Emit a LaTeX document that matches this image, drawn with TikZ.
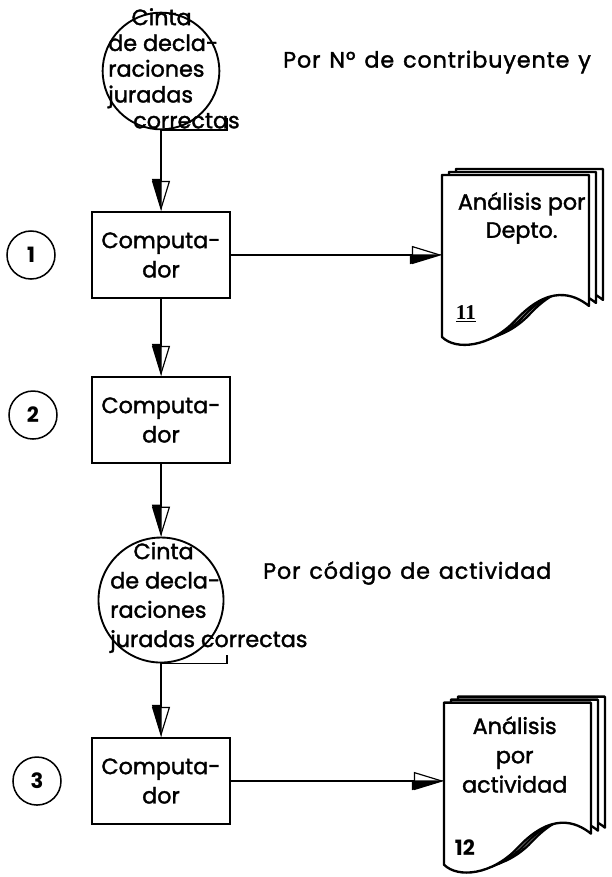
\documentclass[tikz,border=0pt]{standalone}
\usepackage{fontspec}
\setmainfont{Poppins}[UprightFeatures={FakeBold=1.6}]
\newfontfamily\notefont{Poppins}[UprightFeatures={FakeBold=1.6},LetterSpace=4,WordSpace=1.3]
\newfontfamily\serialfont{Liberation Serif}
\usetikzlibrary{positioning,arrows.meta}

\tikzset{
  proc/.style={draw,line width=2pt,minimum width=4.14cm,minimum height=2.58cm,
    align=center,inner sep=0pt},
  tape/.style={draw,circle,line width=1.6pt,minimum size=3.5cm,inner sep=0pt},
  tapetext/.style={align=left,inner sep=0pt,anchor=north west,font=\fontsize{19}{22}\selectfont},
  stepnum/.style={draw,circle,line width=1.3pt,minimum size=1.44cm,inner sep=0pt,
    font=\fontsize{18}{20}\selectfont\bfseries},
  docnode/.style={minimum width=4.41cm,minimum height=5.13cm,inner sep=0pt},
  docline/.style={line width=2pt,fill=white,line join=round},
  note/.style={anchor=west,inner sep=0pt,font=\notefont\fontsize{19}{25}\selectfont},
  flow/.style={line width=1pt,-{Triangle[open,length=0.9cm,width=0.54cm,line width=1pt]},
    postaction={draw,-{Triangle[harpoon,swap,length=0.9cm,width=0.54cm]}}}
}

% stacked report pages behind a doc node
\newcommand\docstack[1]{%
  \foreach \dx/\dy in {14/-6,7/-3,0/0}{%
    \begin{scope}[shift={(#1.north west)},shift={(\dx,\dy)}]
      \draw[docline] (0,0) -- (147,0) -- (147,131)
        .. controls (132,119) and (107,109) .. (73,146)
        .. controls (48,172) and (14,176) .. (0,162) -- cycle;
    \end{scope}}}

\begin{document}
\begin{tikzpicture}[x=0.03cm,y=-0.03cm,node distance=5cm,on grid,
   font=\fontsize{19}{25}\selectfont]
 \useasboundingbox (0,0) rectangle (611,877);
 % main column
 \node[tape] (tape1) at (161,71) {};
 \node[proc] (box1) [below=5.52cm of tape1] {Computa-\\dor};
 \node[proc] (box2) [below=4.95cm of box1] {Computa-\\dor};
 \node[tape,minimum size=3.75cm] (tape2) [below=5.4cm of box2] {};
 \node[proc] (box3) [below=5.43cm of tape2] {Computa-\\dor};
 \node[stepnum] (n1) [left=3.9cm of box1] {1};
 \node[stepnum] (n2) [above left=0.15cm and 3.84cm of box2] {2};
 \node[stepnum] (n3) [left=3.72cm of box3] {3};
 \node[docnode] (doc1) [below right=0.17cm and 10.64cm of box1] {};
 \node[docnode] (doc2) [below right=0.22cm and 10.7cm of box3] {};
 % tape tails
 \draw[line width=1.6pt] (tape1.south) -- ++(66,0) -- ++(0,-12);
 \draw[line width=1.6pt] (tape2.south) -- ++(66,0) -- ++(0,-8);
 % reports
 \docstack{doc1}
 \docstack{doc2}
 % texts
 \node[tapetext] (t1) at (108,8) {\hspace*{0.7cm}Cinta\\de decla-\\raciones\\juradas\\\hspace*{0.75cm}correctas};
 \node[tapetext,font=\fontsize{19}{25}\selectfont] (t2) at (110,542) {\hspace*{0.7cm}Cinta\\de decla-\\raciones\\juradas correctas};
 \node[note] (sort1) at (283,62) {Por Nº de contribuyente y};
 \node[note] (sort2) at (263,573) {Por código de actividad};
 \node[align=center,inner sep=0pt,font=\fontsize{19}{24}\selectfont] (r1) at ([shift={(6,43)}]doc1.north) {Análisis por\\Depto.};
 \node[align=center,inner sep=0pt] (r2) at ([shift={(-3,52)}]doc2.north) {Análisis\\por\\actividad};
 \node[inner sep=0pt,font=\serialfont\fontsize{18}{20}\selectfont\bfseries] (s1) at ([shift={(24,139)}]doc1.north west) {\underline{11}};
 \node[inner sep=0pt,font=\fontsize{18}{20}\selectfont\bfseries] (s2) at ([shift={(21,145)}]doc2.north west) {12};
 % flow
 \draw[flow] (tape1.south) -- (box1.north);
 \draw[flow] (box1.south) -- (box2.north);
 \draw[flow] (box2.south) -- (tape2.north);
 \draw[flow] (tape2.south) -- (box3.north);
 \draw[flow] (box1.east) -- (box1.east -| doc1.west);
 \draw[flow] (box3.east) -- (box3.east -| doc2.west);
\end{tikzpicture}
\end{document}
